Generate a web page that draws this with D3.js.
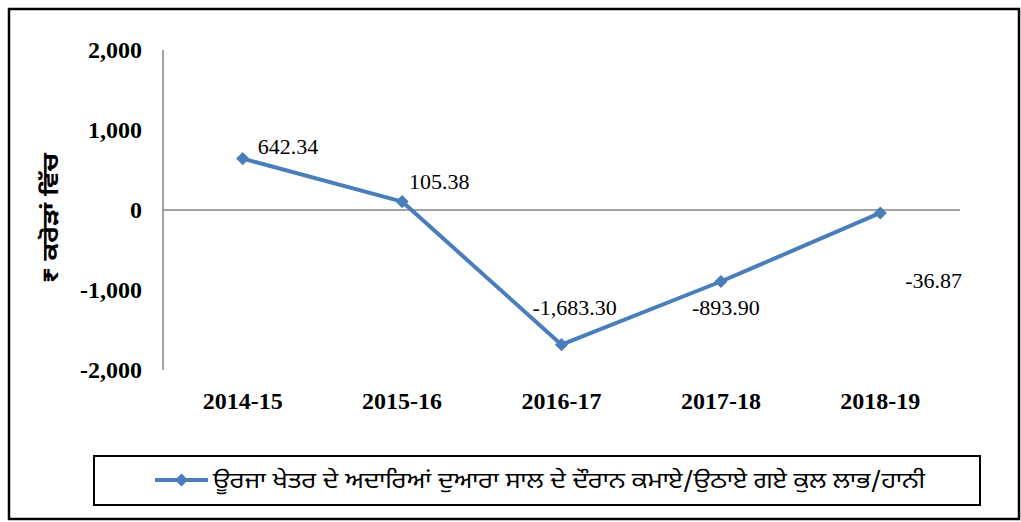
<!DOCTYPE html>
<html>
<head>
<meta charset="utf-8">
<script src="https://cdn.jsdelivr.net/npm/d3@7/dist/d3.min.js"></script>
<style>
  html, body { margin: 0; padding: 0; background: #fff; }
  svg { display: block; }
</style>
</head>
<body>
<svg id="chart" width="1021" height="522"></svg>
<script>
const categories = ["2014-15", "2015-16", "2016-17", "2017-18", "2018-19"];
const values = [642.34, 105.38, -1683.30, -893.90, -36.87];
const valueLabels = ["642.34", "105.38", "-1,683.30", "-893.90", "-36.87"];
const yTicks = [2000, 1000, 0, -1000, -2000];
const yTickLabels = ["2,000", "1,000", "0", "-1,000", "-2,000"];
const seriesName = "ਊਰਜਾ ਖੇਤਰ ਦੇ ਅਦਾਰਿਆਂ ਦੁਆਰਾ ਸਾਲ ਦੇ ਦੌਰਾਨ ਕਮਾਏ/ਉਠਾਏ ਗਏ ਕੁਲ ਲਾਭ/ਹਾਨੀ";
const yTitle = "₹ ਕਰੋੜਾਂ ਵਿੱਚ";

// label placement offsets (layout only)
const labelOffsets = [[15, -5], [7, -12.5], [-29, -30], [-29, 33.5], [25, 75]];

const svg = d3.select("#chart");
const color = "#4A7EBB";
const axisColor = "#868686";
const serif = "'Liberation Serif', 'Times New Roman', serif";
const gurmukhi = "'Noto Sans Gurmukhi', 'Raavi', 'Lohit Gurmukhi', 'Noto Sans', sans-serif";

// outer border
svg.append("rect").attr("x", 9).attr("y", 9).attr("width", 1010).attr("height", 510)
  .attr("fill", "none").attr("stroke", "#000").attr("stroke-width", 2.5);

const x = d3.scalePoint().domain(categories).range([163, 960]).padding(0.5);
const y = d3.scaleLinear().domain([-2000, 2000]).range([370, 50]);

// y axis line
svg.append("line").attr("x1", 163).attr("x2", 163).attr("y1", y(2000)).attr("y2", y(-2000))
  .attr("stroke", axisColor).attr("stroke-width", 1.5);
// zero line
svg.append("line").attr("x1", 163).attr("x2", 960).attr("y1", y(0)).attr("y2", y(0))
  .attr("stroke", axisColor).attr("stroke-width", 1.5);

// y tick labels
svg.selectAll(".ytick").data(yTicks).enter().append("text")
  .attr("x", 142).attr("y", d => y(d))
  .attr("text-anchor", "end").attr("dominant-baseline", "central")
  .attr("font-family", serif).attr("font-weight", "bold").attr("font-size", 24)
  .text((d, i) => yTickLabels[i]);

// x labels
svg.selectAll(".xlab").data(categories).enter().append("text")
  .attr("x", d => x(d)).attr("y", 409)
  .attr("text-anchor", "middle")
  .attr("font-family", serif).attr("font-weight", "bold").attr("font-size", 24)
  .text(d => d);

// y title
svg.append("text")
  .attr("transform", "translate(58,218) rotate(-90)")
  .attr("text-anchor", "middle")
  .attr("font-family", gurmukhi).attr("font-weight", "bold").attr("font-size", 23)
  .attr("textLength", 130).attr("lengthAdjust", "spacingAndGlyphs")
  .text(yTitle);

const pts = categories.map((c, i) => ({ c, v: values[i], i }));

svg.append("path").datum(pts)
  .attr("d", d3.line().x(d => x(d.c)).y(d => y(d.v)))
  .attr("fill", "none").attr("stroke", color).attr("stroke-width", 4).attr("stroke-linejoin", "round");

const diamond = d3.symbol().type(d3.symbolDiamond2).size(110);
svg.selectAll(".mk").data(pts).enter().append("path")
  .attr("d", diamond)
  .attr("transform", d => `translate(${x(d.c)},${y(d.v)})`)
  .attr("fill", color);

svg.selectAll(".vlab").data(pts).enter().append("text")
  .attr("x", d => x(d.c) + labelOffsets[d.i][0])
  .attr("y", d => y(d.v) + labelOffsets[d.i][1])
  .attr("font-family", serif).attr("font-size", 22)
  .text(d => valueLabels[d.i]);

// legend
svg.append("rect").attr("x", 94).attr("y", 456).attr("width", 886).attr("height", 49)
  .attr("fill", "none").attr("stroke", "#000").attr("stroke-width", 2);
svg.append("line").attr("x1", 155).attr("x2", 208).attr("y1", 480).attr("y2", 480)
  .attr("stroke", color).attr("stroke-width", 4);
svg.append("path").attr("d", diamond).attr("transform", "translate(181.5,480)").attr("fill", color);
svg.append("text").attr("x", 213).attr("y", 488)
  .attr("font-family", gurmukhi).attr("font-size", 22)
  .attr("textLength", 712).attr("lengthAdjust", "spacingAndGlyphs")
  .text(seriesName);
</script>
</body>
</html>
